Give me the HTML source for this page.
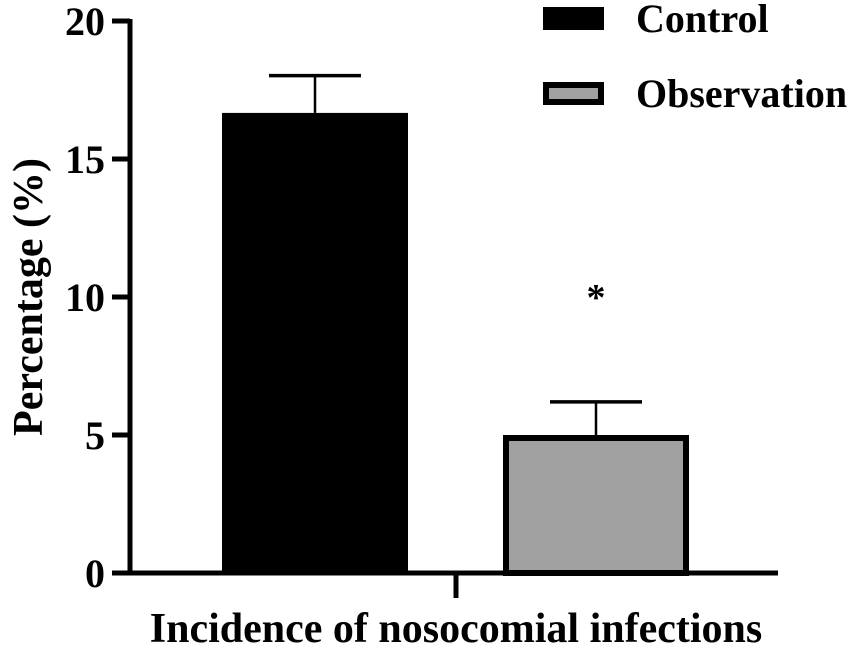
<!DOCTYPE html>
<html><head><meta charset="utf-8"><style>
html,body{margin:0;padding:0;background:#fff;}
svg text{font-family:"Liberation Serif",serif;font-weight:bold;fill:#000;}
</style></head><body>
<svg width="856" height="646" viewBox="0 0 856 646" xmlns="http://www.w3.org/2000/svg">
<g id="chart"></g>
</svg>
<script>
const categories = ["Control", "Observation"];
const values = [16.67, 5.0];
const errors = [1.35, 1.2];
const fills = ["#000000", "#a0a0a0"];
const yTicks = [0, 5, 10, 15, 20];

const NS = "http://www.w3.org/2000/svg";
const g = document.getElementById("chart");
const y0 = 573, pxPerUnit = 27.6, axisX = 130;
function y(v){ return y0 - v * pxPerUnit; }
const barLeft = [222, 503], barW = 186;
function mk(tag, attrs){ const e = document.createElementNS(NS, tag); for (const k in attrs) e.setAttribute(k, attrs[k]); g.appendChild(e); return e; }

categories.forEach((c, i) => {
  const x = barLeft[i], top = y(values[i]), cx = x + barW / 2;
  let r;
  if (i === 0) {
    r = mk("rect", {x: x, y: top, width: barW, height: y0 - top, fill: fills[i]});
  } else {
    r = mk("rect", {x: x + 3, y: top + 3, width: barW - 6, height: y0 - top - 3, fill: fills[i], stroke: "#000", "stroke-width": 6});
  }
  
  
  const ln = mk("line", {x1: cx, x2: cx, y1: top, y2: y(values[i] + errors[i]), stroke: "#000", "stroke-width": 2.5});
  
  
  const cap = mk("line", {x1: cx - 46, x2: cx + 46, y1: y(values[i] + errors[i]), y2: y(values[i] + errors[i]), stroke: "#000", "stroke-width": 3.5});
  
  
});

const ast = mk("text", {x: 596, y: 310, "font-size": 38, "text-anchor": "middle"});
ast.textContent = "*";



const ya = mk("line", {x1: axisX, x2: axisX, y1: y(20) - 2, y2: y0 + 2, stroke: "#000", "stroke-width": 5});


const xa = mk("line", {x1: 112, x2: 778, y1: y0, y2: y0, stroke: "#000", "stroke-width": 5});


const xt = mk("line", {x1: 456, x2: 456, y1: y0, y2: 598, stroke: "#000", "stroke-width": 5});



yTicks.forEach(t => {
  const tk = mk("line", {x1: 112, x2: axisX, y1: y(t), y2: y(t), stroke: "#000", "stroke-width": 5});
  
  
  const lb = mk("text", {x: 105, y: y(t) + 14, "font-size": 40, "text-anchor": "end"});
  lb.textContent = t;
  
  
});

const yt = mk("text", {x: 0, y: 0, "font-size": 42, "text-anchor": "middle", transform: "translate(42,297) rotate(-90)"});
yt.textContent = "Percentage (%)";


const xtt = mk("text", {x: 456, y: 642, "font-size": 42, "text-anchor": "middle"});
xtt.textContent = "Incidence of nosocomial infections";



const legY = [7, 82];
categories.forEach((c, i) => {
  let r;
  if (i === 0) r = mk("rect", {x: 543, y: legY[i], width: 61, height: 23, fill: fills[i]});
  else r = mk("rect", {x: 546, y: legY[i] + 3, width: 55, height: 17, fill: fills[i], stroke: "#000", "stroke-width": 6});
  
  
  const t = mk("text", {x: 636, y: legY[i] + 25, "font-size": 40});
  t.textContent = c;
  
  
});
</script>
</body></html>
